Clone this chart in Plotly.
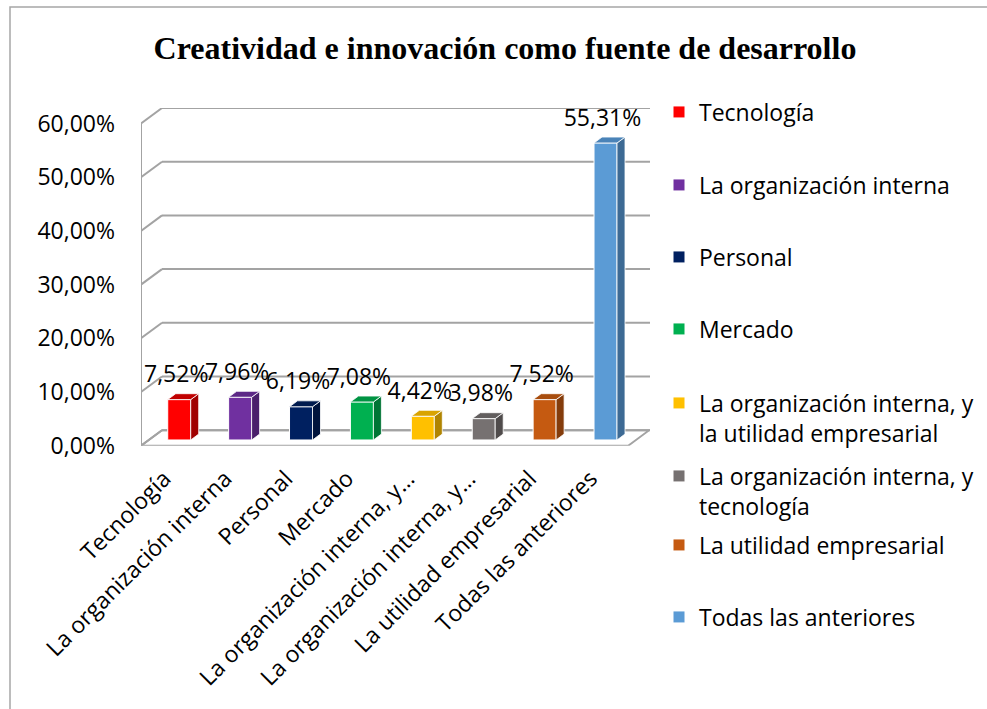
import plotly.graph_objects as go

# ---------------- data ----------------
categories = [
    "Tecnología",
    "La organización interna",
    "Personal",
    "Mercado",
    "La organización interna, y<br>la utilidad empresarial",
    "La organización interna, y<br>tecnología",
    "La utilidad empresarial",
    "Todas las anteriores",
]
tick_labels = [
    "Tecnología",
    "La organización interna",
    "Personal",
    "Mercado",
    "La organización interna, y…",
    "La organización interna, y…",
    "La utilidad empresarial",
    "Todas las anteriores",
]
values = [7.52, 7.96, 6.19, 7.08, 4.42, 3.98, 7.52, 55.31]
y_ticks = [0, 10, 20, 30, 40, 50, 60]

front_colors = ["#FF0000", "#7030A0", "#002060", "#00B050", "#FFC000", "#767171", "#C55A11", "#5B9BD5"]
side_colors = ["#A00000", "#4A1F6B", "#00133C", "#007535", "#B08400", "#4F4B4B", "#843C0B", "#3D6A94"]
top_colors = ["#C00000", "#5C2786", "#001A4E", "#009443", "#D9A300", "#625E5E", "#A84D0E", "#4A83B8"]

# ---------------- geometry (layout constants) ----------------
W, H = 987, 709
PX_LEFT, PX_RIGHT = 141, 650
PX_FLOOR, PX_TOP = 445.7, 108
U = 60.9            # px per category unit
PY = 5.37           # px per percent
DX = 21 / U         # full depth offset (x units)
DY = 15.5 / PY      # full depth offset (percent units)
F0 = 0.37           # depth fraction of bar front plane
FD = 0.38           # bar depth fraction
BW = 23 / U         # bar width

x_min = -0.5
x_max = x_min + (PX_RIGHT - PX_LEFT) / U
n = len(values)

fig = go.Figure()

# bar front faces
for i, (cat, v) in enumerate(zip(categories, values)):
    fig.add_trace(go.Bar(
        x=[i + F0 * DX], y=[v], base=[F0 * DY], width=BW,
        name=cat, marker=dict(color=front_colors[i], line=dict(color="white", width=1)),
        legend="legend" if i == 0 else f"legend{i+1}",
        hoverinfo="skip",
    ))

# side and top faces
for i, v in enumerate(values):
    xl = i + F0 * DX - BW / 2
    xr = i + F0 * DX + BW / 2
    yb = F0 * DY
    yt = v + F0 * DY
    ddx, ddy = FD * DX, FD * DY
    fig.add_trace(go.Scatter(
        x=[xr, xr + ddx, xr + ddx, xr, xr], y=[yb, yb + ddy, yt + ddy, yt, yb],
        mode="lines", fill="toself", fillcolor=side_colors[i],
        line=dict(color="white", width=0.8), showlegend=False, hoverinfo="skip",
    ))
    fig.add_trace(go.Scatter(
        x=[xl, xr, xr + ddx, xl + ddx, xl], y=[yt, yt, yt + ddy, yt + ddy, yt],
        mode="lines", fill="toself", fillcolor=top_colors[i],
        line=dict(color="white", width=0.8), showlegend=False, hoverinfo="skip",
    ))

# data labels
fig.add_trace(go.Scatter(
    x=[i + F0 * DX - 3 / U for i in range(n)],
    y=[v + F0 * DY + 23 / PY for v in values],
    mode="text",
    text=[f"{v:.2f}".replace(".", ",") + "%" for v in values],
    textposition="middle center",
    textfont=dict(family="Open Sans", size=23, color="#000000"),
    showlegend=False, hoverinfo="skip",
))

# walls / gridlines / floor
grid = dict(color="#A3A3A3", width=2)
shapes = []
for t in y_ticks:
    shapes.append(dict(type="line", xref="x", yref="y", x0=x_min + DX, x1=x_max,
                       y0=t + DY, y1=t + DY, line=grid, layer="below"))
    shapes.append(dict(type="line", xref="x", yref="y", x0=x_min, x1=x_min + DX,
                       y0=t, y1=t + DY, line=grid, layer="below"))
shapes.append(dict(type="line", xref="x", yref="y", x0=x_min, x1=x_min,
                   y0=0, y1=y_ticks[-1], line=grid, layer="below"))
shapes.append(dict(type="path", xref="x", yref="y",
                   path=f"M{x_min},0 L{x_min + n},0 L{x_min + n + DX},{DY} L{x_min + DX},{DY} Z",
                   line=grid, fillcolor="rgba(255,255,255,0)", layer="below"))
# outer chart border (left and top visible)
shapes.append(dict(type="rect", xref="paper", yref="paper",
                   x0=10 / W, x1=1.2, y0=-0.2, y1=1 - 7 / H,
                   line=dict(color="#A6A6A6", width=1.5), layer="below"))

legend_centers = [112, 185, 257, 329, 418, 491, 545, 617]
LEG_X = 659
leg_font = dict(family="Open Sans", size=23, color="#000000")
legends = {}
for i, cy in enumerate(legend_centers):
    key = "legend" if i == 0 else f"legend{i+1}"
    legends[key] = dict(x=LEG_X / W, y=1 - cy / H, xanchor="left", yanchor="middle",
                        bgcolor="rgba(0,0,0,0)", font=leg_font, valign="top",
                        borderwidth=0)

fig.update_layout(
    width=W, height=H,
    margin=dict(l=0, r=0, t=0, b=0, autoexpand=False),
    paper_bgcolor="white", plot_bgcolor="rgba(0,0,0,0)",
    barmode="overlay",
    title=dict(text="<b>Creatividad e innovación como fuente de desarrollo</b>",
               x=505 / W, y=1 - 48 / H, xanchor="center", yanchor="middle",
               font=dict(family="Liberation Serif", size=32, color="#000000")),
    xaxis=dict(domain=[PX_LEFT / W, PX_RIGHT / W], range=[x_min, x_max],
               tickvals=[i + F0 * DX - 15 / U for i in range(n)], ticktext=tick_labels,
               tickangle=-45, tickfont=dict(family="Open Sans", size=23, color="#000000"),
               ticklabelstandoff=14,
               showgrid=False, zeroline=False, showline=False, ticks="", fixedrange=True,
               automargin=False),
    yaxis=dict(domain=[1 - PX_FLOOR / H, 1 - PX_TOP / H], range=[0, y_ticks[-1] + DY],
               tickvals=y_ticks, ticktext=[f"{t:.2f}".replace(".", ",") + "%" for t in y_ticks],
               tickfont=dict(family="Open Sans", size=23, color="#000000"),
               ticklabelstandoff=25,
               showgrid=False, zeroline=False, showline=False, ticks="", fixedrange=True,
               automargin=False),
    shapes=shapes,
    showlegend=True,
    **legends,
)

fig.write_html("out.html")
